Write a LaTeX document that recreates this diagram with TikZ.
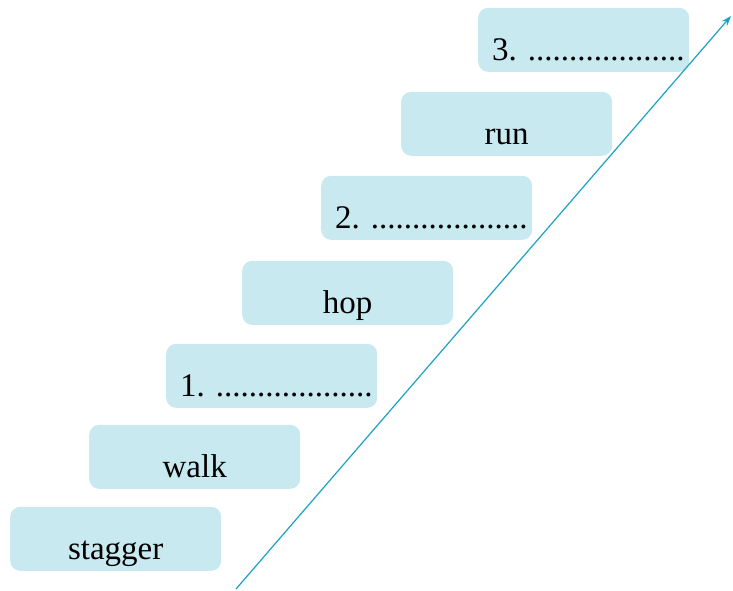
\documentclass[tikz,border=0pt]{standalone}
\usepackage{fontspec}
\setmainfont{Liberation Serif}
\usetikzlibrary{arrows.meta}
\definecolor{boxblue}{HTML}{C9E9F0}
\definecolor{arrowblue}{HTML}{1AA3C0}
\tikzset{
  wordbox/.style={anchor=south west, fill=boxblue, rounded corners=10pt,
    inner xsep=0pt, inner ysep=2pt, text width=211pt, align=center,
    text height=51pt, text depth=9pt, font=\fontsize{33}{38}\selectfont},
  blankbox/.style={wordbox, inner xsep=14pt, text width=183pt, align=left},
}
\begin{document}
\begin{tikzpicture}[x=1pt,y=-1pt]
  \useasboundingbox (0,0) rectangle (733,590);
  \node[wordbox] (stagger) at (10,571) {stagger};
  \node[wordbox] (walk) at (89,489) {walk};
  \node[blankbox] (one) at (166,408) {1.~...................};
  \node[wordbox] (hop) at (242,325) {hop};
  \node[blankbox] (two) at (321,240) {2.~...................};
  \node[wordbox] (run) at (401,156) {run};
  \node[blankbox] (three) at (478,72) {3.~...................};
  \coordinate (arrowstart) at (236,589);
  \coordinate (arrowend) at (731,16);
  \draw[arrowblue, line width=1.2pt, -{Stealth[length=10pt,width=7pt]}] (arrowstart) -- (arrowend);
\end{tikzpicture}
\end{document}
